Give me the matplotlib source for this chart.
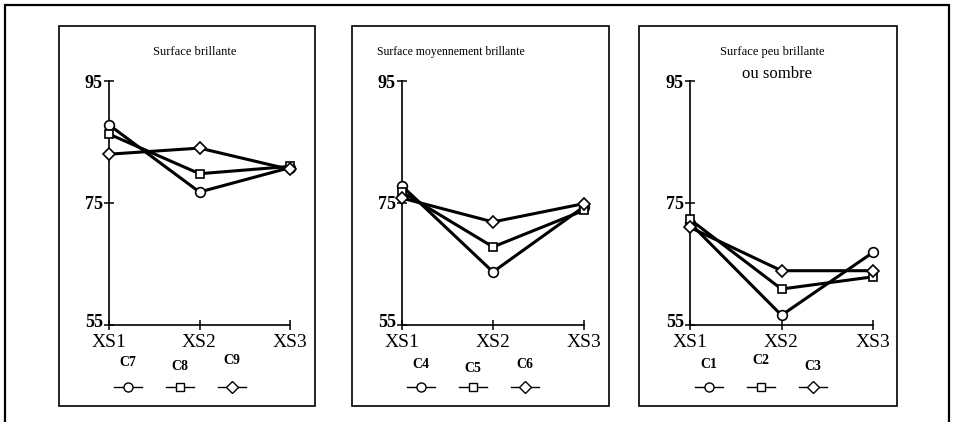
import matplotlib
matplotlib.use("Agg")
import matplotlib.pyplot as plt
import matplotlib.transforms as mtransforms
from matplotlib.patches import Rectangle
from matplotlib.lines import Line2D

plt.rcParams['font.family'] = ['Liberation Serif', 'DejaVu Serif']

# data
positions = ["XS1", "XS2", "XS3"]

titles = ["Surface brillante",
          "Surface moyennement brillante",
          "Surface peu brillante"]

names_1 = ["C7", "C8", "C9"]
c7 = [87.8, 76.8, 80.8]
c8 = [86.3, 79.8, 81.0]
c9 = [83.0, 84.0, 80.5]

names_2 = ["C4", "C5", "C6"]
c4 = [77.8, 63.7, 74.4]
c5 = [76.8, 67.8, 73.8]
c6 = [75.8, 71.9, 74.9]

names_3 = ["C1", "C2", "C3"]
c1 = [71.7, 56.6, 66.9]
c2 = [72.3, 60.9, 62.9]
c3 = [71.0, 63.9, 63.9]

y_ticks = [55, 75, 95]
markers = ["o", "s", "D"]
msizes = [7, 6, 6.5]

W, H = 955, 422
fig = plt.figure(figsize=(W / 100, H / 100), dpi=100)


def fx(px):
    return px / W


def fy(py):
    return 1 - py / H


# outer frame and panel frames (pixel boxes)
fig.add_artist(Rectangle((fx(5), fy(430)), fx(944), (430 - 5) / H,
                         transform=fig.transFigure, fill=False,
                         lw=1.6, ec="black"))
boxes = [(59, 315), (352, 609), (639, 897)]
for l, r in boxes:
    fig.add_artist(Rectangle((fx(l), fy(406)), fx(r - l), (406 - 26) / H,
                             transform=fig.transFigure, fill=False,
                             lw=1.2, ec="black"))

axes_x = [(109, 290), (402, 584), (690, 873)]
series = [(names_1, [c7, c8, c9]),
          (names_2, [c4, c5, c6]),
          (names_3, [c1, c2, c3])]

for i, (x0, x1) in enumerate(axes_x):
    ax = fig.add_axes([fx(x0), fy(325), fx(x1 - x0), (325 - 81) / H])
    names, values = series[i]
    for vals, m, ms in zip(values, markers, msizes):
        ax.plot(range(len(positions)), vals, color="black", lw=2.2,
                marker=m, ms=ms, mfc="white", mec="black", mew=1.2,
                clip_on=False, zorder=3)
    ax.set_xlim(0, 2)
    ax.set_ylim(55, 95)
    ax.set_xticks(range(len(positions)))
    ax.set_xticklabels(positions, fontsize=14)
    ax.set_yticks(y_ticks)
    ax.set_yticklabels([str(v) for v in y_ticks], fontsize=13,
                       fontweight="bold")
    ax.tick_params(axis="both", direction="inout", length=7, width=1.1,
                   pad=1)
    ax.tick_params(axis="x", pad=3)
    # lift the bottom y label a little, as in the original
    lab55 = ax.get_yticklabels()[0]
    lab55.set_transform(lab55.get_transform() + mtransforms.ScaledTranslation(
        0, 4 / 100, fig.dpi_scale_trans))
    for s in ["top", "right"]:
        ax.spines[s].set_visible(False)
    for s in ["left", "bottom"]:
        ax.spines[s].set_linewidth(1.2)
    ax.patch.set_alpha(0)

    # legend: name above a small line+marker sample
    leg_x = [x0 + 19 + 52 * k for k in range(3)]
    dy = [[-2, 2, -5], [0, 3, -1], [0, -5, 1]][i]
    for k, name in enumerate(names):
        fig.text(fx(leg_x[k]), fy(365 + dy[k]), name, fontsize=10,
                 fontweight="bold", ha="center", va="center")
        fig.add_artist(Line2D([fx(leg_x[k] - 14), fx(leg_x[k] + 14)],
                              [fy(387), fy(387)], transform=fig.transFigure,
                              color="black", lw=1.0))
        fig.add_artist(Line2D([fx(leg_x[k])], [fy(387)],
                              transform=fig.transFigure, color="black",
                              marker=markers[k], ms=msizes[k] - 0.5,
                              mfc="white", mec="black", mew=1.0))

fig.text(fx(195), fy(52), titles[0], fontsize=9, ha="center", va="center")
fig.text(fx(451), fy(52), titles[1], fontsize=8.5, ha="center", va="center")
fig.text(fx(772), fy(52), titles[2], fontsize=9, ha="center", va="center")
fig.text(fx(777), fy(74), "ou sombre", fontsize=12, ha="center",
         va="center")

fig.savefig("out.png", dpi=100)
